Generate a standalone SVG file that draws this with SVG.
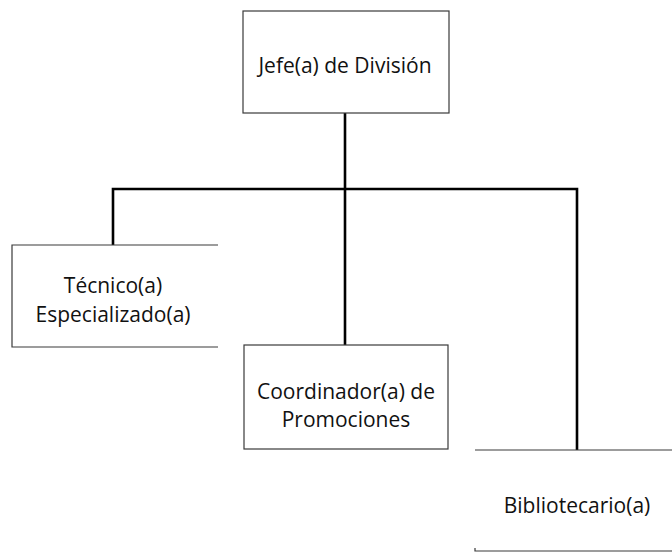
<svg xmlns="http://www.w3.org/2000/svg" width="672" height="552" viewBox="0 0 672 552">
<style>
.box{fill:none;stroke:#3a3a3a;stroke-width:1.2}
.conn{fill:none;stroke:#000;stroke-width:2.6}
text{font-family:"Open Sans","Liberation Sans",sans-serif;font-size:21px;fill:#111;text-anchor:middle}
</style>
<rect width="672" height="552" fill="#fff"/>
<g id="connectors">
<line class="conn" x1="345" y1="113" x2="345" y2="345"/>
<polyline class="conn" points="113,245 113,189 577,189 577,450"/>
</g>
<g id="jefe">
<rect class="box" x="243" y="11" width="206" height="102"/>
<text x="345" y="73">Jefe(a) de División</text>
</g>
<g id="tecnico">
<polyline class="box" points="218,245 12,245 12,347 218,347"/>
<text x="113" y="293">Técnico(a)</text>
<text x="113" y="322">Especializado(a)</text>
</g>
<g id="coordinador">
<rect class="box" x="244" y="345" width="204" height="104"/>
<text x="346" y="399">Coordinador(a) de</text>
<text x="346" y="427">Promociones</text>
</g>
<g id="bibliotecario">
<line class="box" x1="475" y1="450" x2="672" y2="450"/>
<polyline class="box" points="475,548 475,551 672,551"/>
<text x="577" y="513">Bibliotecario(a)</text>
</g>
</svg>
